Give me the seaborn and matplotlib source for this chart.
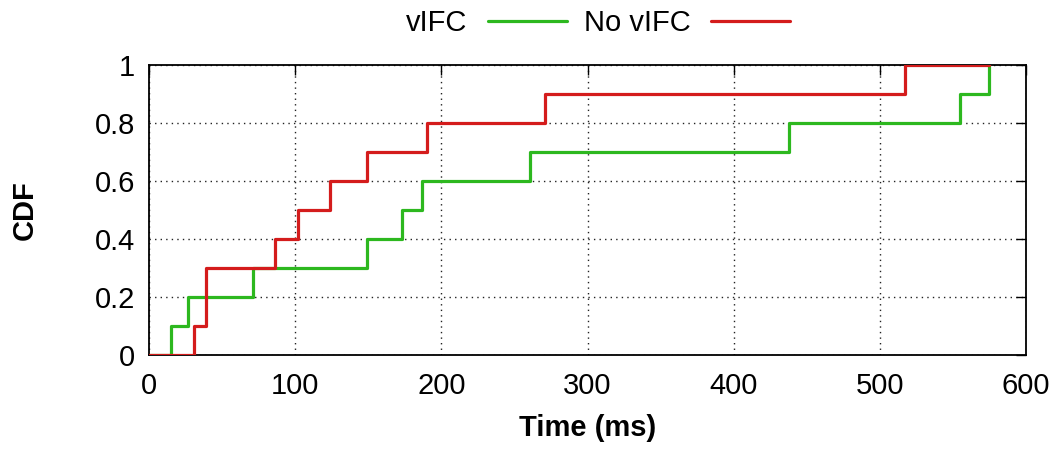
import numpy as np
import pandas as pd
import matplotlib
matplotlib.use("Agg")
import matplotlib.pyplot as plt
import seaborn as sns

# Data (sorted sample times in ms)
vifc_times = [15, 27, 71, 149, 173, 187, 261, 438, 555, 575]
novifc_times = [31, 39, 39, 86, 102, 124, 149, 190, 271, 517]
series_names = ["vIFC", "No vIFC"]
series_colors = ["#2db81f", "#d41c1c"]
x_ticks = [0, 100, 200, 300, 400, 500, 600]
y_ticks = [0, 0.2, 0.4, 0.6, 0.8, 1.0]
y_ticklabels = ["0", "0.2", "0.4", "0.6", "0.8", "1"]

sns.set_theme(style="white")
plt.rcParams["font.family"] = ["Liberation Sans", "DejaVu Sans"]
plt.rcParams["text.color"] = "black"
plt.rcParams["axes.labelcolor"] = "black"
plt.rcParams["xtick.color"] = "black"
plt.rcParams["ytick.color"] = "black"

def cdf_frame(times, name, x_end):
    n = len(times)
    xs = [0] + list(times)
    ys = [0] + [(i + 1) / n for i in range(n)]
    if xs[-1] < x_end:
        xs.append(x_end)
        ys.append(1.0)
    return pd.DataFrame({"Time": xs, "CDF": ys, "series": name})

x_end = max(max(vifc_times), max(novifc_times))
df = pd.concat([cdf_frame(vifc_times, series_names[0], x_end),
                cdf_frame(novifc_times, series_names[1], x_end)], ignore_index=True)

fig = plt.figure(figsize=(10.64, 4.5), dpi=100)
ax = fig.add_axes([149/1064, 1 - 355/450, (1026 - 149)/1064, (355 - 65)/450])

for name, color in zip(series_names, series_colors):
    sub = df[df["series"] == name]
    sns.lineplot(data=sub, x="Time", y="CDF", ax=ax, color=color, lw=2.3,
                 drawstyle="steps-post", estimator=None, sort=False, label=name,
                 zorder=3)

ax.set_xlim(0, 600)
ax.set_ylim(0, 1)
ax.set_xticks(x_ticks)
ax.set_yticks(y_ticks)
ax.set_yticklabels(y_ticklabels)
ax.tick_params(axis="both", which="both", direction="in", length=7, width=1,
               top=True, right=True, labelsize=21, colors="black")
ax.tick_params(axis="x", pad=12)
ax.tick_params(axis="y", pad=10)
for s in ax.spines.values():
    s.set_visible(True)
    s.set_color("black")
    s.set_linewidth(1.3)
ax.grid(True, linestyle=(0, (1, 3)), color="#222222", linewidth=1)
ax.set_axisbelow(True)

ax.set_xlabel("Time (ms)", fontsize=21, fontweight="bold", labelpad=10, color="black")
ax.set_ylabel("CDF", fontsize=21, fontweight="bold", labelpad=40, color="black")

leg = ax.legend(loc="center", bbox_to_anchor=(0.562, (450 - 23) / 450), bbox_transform=fig.transFigure,
                ncol=2, frameon=False, fontsize=21, markerfirst=False,
                handlelength=2.7, handletextpad=0.7, columnspacing=0.6)
for t in leg.get_texts():
    t.set_color("black")

fig.savefig("out.png", dpi=100)
